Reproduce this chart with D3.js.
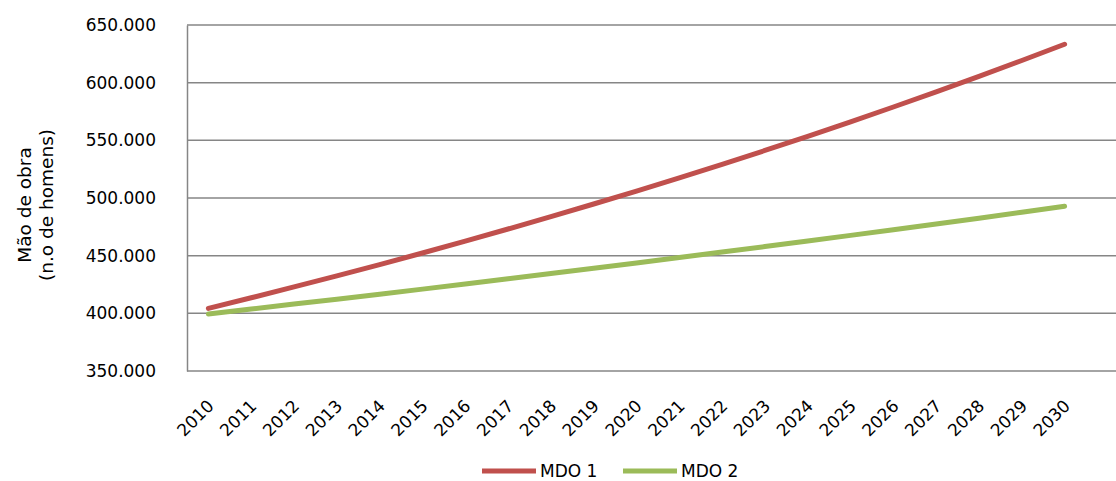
<!DOCTYPE html>
<html>
<head>
<meta charset="utf-8">
<script src="https://cdn.jsdelivr.net/npm/d3@7"></script>
<style>
  html, body { margin: 0; padding: 0; background: #fff; }
  svg { display: block; font-family: "DejaVu Sans", sans-serif; }
</style>
</head>
<body>
<svg id="chart" width="1116" height="481"></svg>
<script>
// Projected labour force (number of workers), two scenarios
const years = ["2010","2011","2012","2013","2014","2015","2016","2017","2018","2019","2020",
               "2021","2022","2023","2024","2025","2026","2027","2028","2029","2030"];
const mdo1 = [404300, 413500, 422900, 432500, 442300, 452300, 462600, 473100, 483800, 494800, 506000,
              517500, 529200, 541200, 553500, 566000, 578900, 592000, 605400, 619200, 633300];
const mdo2 = [399500, 403700, 408000, 412300, 416600, 421000, 425500, 430000, 434500, 439100, 443700,
              448400, 453100, 457900, 462700, 467600, 472500, 477500, 482500, 487600, 492800];
const yTicks = [350000, 400000, 450000, 500000, 550000, 600000, 650000];
const seriesNames = ["MDO 1", "MDO 2"];
const seriesColors = ["#C0504D", "#9BBB59"];

const svg = d3.select("#chart");
const plot = { left: 187, right: 1116, top: 25, bottom: 371 };
const band = (1086 - plot.left) / years.length;

const x = d3.scalePoint().domain(years)
  .range([plot.left + band / 2, plot.left + band * (years.length - 0.5)]);
const y = d3.scaleLinear().domain([350000, 650000]).range([plot.bottom, plot.top]);

const fmt = v => d3.format(",")(v).replace(/,/g, ".");
const gridColor = "#868686";

// Horizontal gridlines
svg.append("g").selectAll("line").data(yTicks.slice(1)).join("line")
  .attr("x1", plot.left).attr("x2", plot.right)
  .attr("y1", d => y(d)).attr("y2", d => y(d))
  .attr("stroke", gridColor).attr("stroke-width", 1.5);

// Y axis
const yAxis = svg.append("g").attr("transform", `translate(${plot.left},0)`)
  .call(d3.axisLeft(y).tickValues(yTicks).tickFormat(fmt).tickSize(0).tickPadding(31));
yAxis.select(".domain").attr("stroke", gridColor).attr("stroke-width", 1.5);
yAxis.selectAll("text").attr("font-size", 17).attr("fill", "#000")
  .attr("font-family", "DejaVu Sans, sans-serif");

// X axis
svg.append("line")
  .attr("x1", plot.left).attr("x2", plot.right)
  .attr("y1", plot.bottom).attr("y2", plot.bottom)
  .attr("stroke", gridColor).attr("stroke-width", 1.5);

const xAxis = svg.append("g").attr("transform", `translate(0,${plot.bottom})`)
  .call(d3.axisBottom(x).tickSize(0).tickPadding(0));
xAxis.select(".domain").remove();
xAxis.selectAll("text")
  .attr("font-size", 17).attr("fill", "#000")
  .attr("font-family", "DejaVu Sans, sans-serif")
  .attr("text-anchor", "end")
  .attr("dy", 0)
  .attr("transform", "translate(6,36) rotate(-45)");

// Axis title
const title = svg.append("text")
  .attr("transform", `translate(34,${(plot.top + plot.bottom) / 2 + 7}) rotate(-90)`)
  .attr("text-anchor", "middle").attr("font-size", 18.5).attr("fill", "#000");
title.append("tspan").attr("x", 0).attr("dy", "-0.15em").text("Mão de obra");
title.append("tspan").attr("x", 0).attr("dy", "1.2em").text("(n.o de homens)");

// Series lines
const line = d3.line().x((d, i) => x(years[i])).y(d => y(d));
[mdo1, mdo2].forEach((vals, k) => {
  svg.append("path").datum(vals)
    .attr("d", line)
    .attr("fill", "none")
    .attr("stroke", seriesColors[k])
    .attr("stroke-width", 5)
    .attr("stroke-linecap", "round")
    .attr("stroke-linejoin", "round");
});

// Legend
const legend = svg.append("g").attr("transform", "translate(482,471)");
const legendItems = legend.selectAll("g").data(seriesNames).join("g")
  .attr("transform", (d, i) => `translate(${i * 141},0)`);
legendItems.append("line")
  .attr("x1", 0).attr("x2", 54).attr("y1", 0).attr("y2", 0)
  .attr("stroke", (d, i) => seriesColors[i]).attr("stroke-width", 5);
legendItems.append("text")
  .attr("x", 58).attr("y", 6)
  .attr("font-size", 17).attr("fill", "#000")
  .text(d => d);
</script>
</body>
</html>
